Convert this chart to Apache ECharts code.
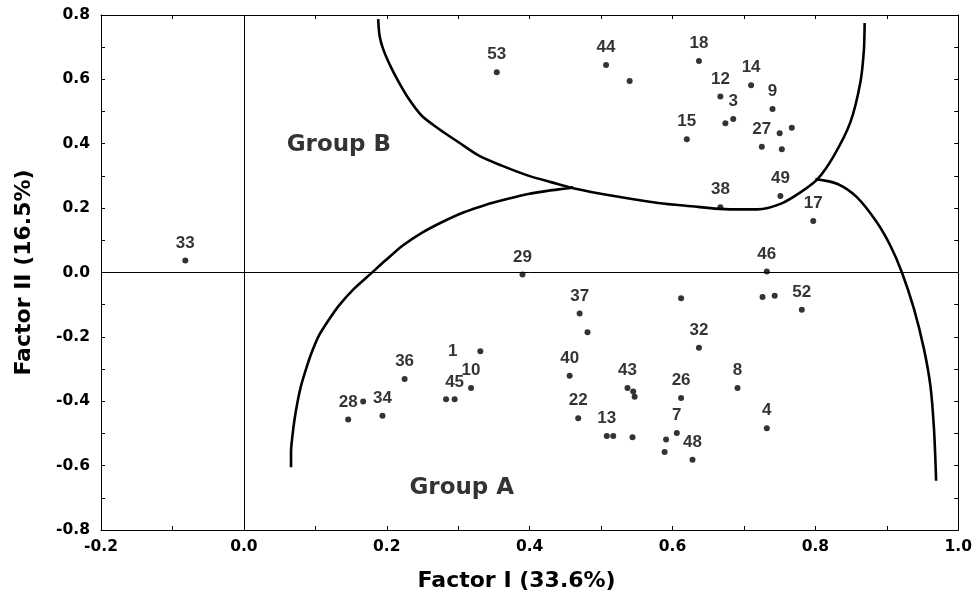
<!DOCTYPE html>
<html>
<head>
<meta charset="utf-8">
<script src="https://cdn.jsdelivr.net/npm/echarts@6/dist/echarts.min.js"></script>
<style>
  html, body { margin: 0; padding: 0; background: #fff; }
  #chart { width: 975px; height: 609px; }
</style>
</head>
<body>
<div id="chart"></div>
<script>
// case ids ('' = unlabeled point) and loadings on the two factors
const pointIds = ['33', '53', '44', '', '29', '18', '14', '12', '3', '', '9', '15', '', '', '27', '', '49', '38', '17', '46',
    '37', '', '1', '10', '', '45', '36', '28', '', '34', '40', '22', '13', '', '', '43', '', '', '', '', '', '52', '32', '8', '26', '4', '7', '', '', '48']
const factor1 = [-0.082, 0.354, 0.507, 0.540, 0.390, 0.637, 0.710, 0.667, 0.685, 0.674, 0.740, 0.620, 0.750, 0.767, 0.725, 0.753, 0.751, 0.667, 0.797, 0.732,
    0.470, 0.481, 0.331, 0.318, 0.283, 0.295, 0.225, 0.146, 0.167, 0.194, 0.456, 0.468, 0.508, 0.517, 0.544, 0.537, 0.545, 0.547, 0.612, 0.726, 0.743, 0.781, 0.637, 0.691, 0.612, 0.732, 0.606, 0.591, 0.589, 0.628]
const factor2 = [0.037, 0.622, 0.645, 0.595, -0.006, 0.657, 0.582, 0.547, 0.477, 0.464, 0.508, 0.414, 0.433, 0.450, 0.391, 0.383, 0.238, 0.203, 0.160, 0.003,
    -0.127, -0.186, -0.245, -0.359, -0.394, -0.394, -0.331, -0.457, -0.401, -0.445, -0.321, -0.453, -0.508, -0.508, -0.512, -0.359, -0.370, -0.386, -0.080, -0.076, -0.072, -0.116, -0.234, -0.359, -0.390, -0.484, -0.499, -0.519, -0.558, -0.582]

// hand drawn group boundaries
const groupBCurve = [[0.188, 0.787], [0.190, 0.735], [0.195, 0.694], [0.205, 0.642], [0.217, 0.591], [0.231, 0.539], [0.249, 0.487],
    [0.273, 0.446], [0.301, 0.404], [0.329, 0.363], [0.361, 0.332], [0.398, 0.301], [0.431, 0.280], [0.461, 0.262],
    [0.514, 0.239], [0.580, 0.216], [0.626, 0.206], [0.673, 0.197], [0.719, 0.196], [0.752, 0.214], [0.779, 0.249], [0.803, 0.290],
    [0.826, 0.363], [0.849, 0.467], [0.863, 0.591], [0.868, 0.694], [0.869, 0.775]]
const groupACurveLeft = [[0.066, -0.605], [0.066, -0.558], [0.068, -0.507], [0.071, -0.455], [0.075, -0.403], [0.080, -0.352],
    [0.087, -0.300], [0.095, -0.248], [0.105, -0.196], [0.118, -0.150], [0.133, -0.103], [0.154, -0.051], [0.177, -0.005],
    [0.198, 0.037], [0.222, 0.083], [0.249, 0.123], [0.277, 0.156], [0.308, 0.187], [0.338, 0.210], [0.368, 0.228],
    [0.398, 0.244], [0.426, 0.254], [0.454, 0.262], [0.461, 0.265]]
const groupACurveRight = [[0.800, 0.290], [0.831, 0.275], [0.858, 0.234], [0.886, 0.156], [0.905, 0.083], [0.921, 0.001],
    [0.938, -0.113], [0.952, -0.238], [0.961, -0.352], [0.966, -0.486], [0.969, -0.647]]

const groupNames = ['Group A', 'Group B']
const groupPos = [[0.305, -0.663], [0.133, 0.405]]

const tickFont = { fontFamily: 'DejaVu Sans', fontWeight: 'bold', fontSize: 15.5, color: '#000' }
const fmt = v => (Math.abs(v) < 1e-9 ? 0 : v).toFixed(1)

function frameAxis(extra) {
    return Object.assign({
        type: 'value',
        axisLine: { onZero: false, lineStyle: { color: '#000', width: 1 } },
        axisTick: { show: true, inside: true, length: 4, lineStyle: { color: '#000' } },
        minorTick: { show: true, splitNumber: 2, length: 4, lineStyle: { color: '#000' } },
        splitLine: { show: false },
        axisLabel: { show: false }
    }, extra)
}

let myChart = echarts.init(document.getElementById('chart'), null, { renderer: 'canvas' })

const curveStyle = { color: '#000', width: 2.6 }
function curve(data) {
    return {
        type: 'line', data: data, smooth: 0.3, showSymbol: false, symbol: 'none',
        lineStyle: curveStyle, silent: true, z: 3
    }
}

myChart.setOption({
    animation: false,
    grid: { left: 101, right: 14, top: 15, bottom: 79 },
    xAxis: [
        frameAxis({
            position: 'bottom', min: -0.2, max: 1.0, interval: 0.2,
            axisLabel: Object.assign({ show: true, margin: 9, formatter: fmt }, tickFont),
            name: 'Factor I (33.6%)', nameLocation: 'middle', nameGap: 40,
            nameTextStyle: { fontFamily: 'DejaVu Sans', fontWeight: 'bold', fontSize: 22, color: '#000', padding: [0, 26, 0, 0] }
        }),
        frameAxis({ position: 'top', min: -0.2, max: 1.0, interval: 0.2 })
    ],
    yAxis: [
        frameAxis({
            position: 'left', min: -0.8, max: 0.8, interval: 0.2,
            axisLabel: Object.assign({ show: true, margin: 11, formatter: fmt }, tickFont),
            name: 'Factor II (16.5%)', nameLocation: 'middle', nameGap: 66, nameRotate: 90,
            nameTextStyle: { fontFamily: 'DejaVu Sans', fontWeight: 'bold', fontSize: 22, color: '#000' }
        }),
        frameAxis({ position: 'right', min: -0.8, max: 0.8, interval: 0.2 })
    ],
    series: [
        {
            type: 'scatter',
            symbolSize: 6,
            itemStyle: { color: '#000' },
            z: 4,
            data: pointIds.map((id, i) => ({
                name: id,
                value: [factor1[i], factor2[i]],
                label: id === '1' ? { position: 'left', distance: 20 } : undefined
            })),
            label: {
                show: true, position: 'top', distance: 6,
                formatter: p => p.name,
                fontFamily: 'Liberation Sans', fontWeight: 'bold', fontSize: 17, color: '#000'
            },
            markLine: {
                silent: true, symbol: 'none', animation: false,
                label: { show: false },
                lineStyle: { color: '#000', width: 1, type: 'solid' },
                data: [{ xAxis: 0 }, { yAxis: 0 }]
            }
        },
        curve(groupBCurve),
        curve(groupACurveLeft),
        curve(groupACurveRight),
        {
            type: 'scatter',
            symbolSize: 0,
            silent: true,
            data: groupNames.map((n, i) => ({ name: n, value: groupPos[i] })),
            label: {
                show: true, position: 'top', distance: -14, formatter: p => p.name,
                fontFamily: 'DejaVu Sans', fontWeight: 'bold', fontSize: 23, color: '#000'
            }
        }
    ]
})

window.addEventListener('resize', () => {
    myChart.resize()
})
</script>
</body>
</html>
